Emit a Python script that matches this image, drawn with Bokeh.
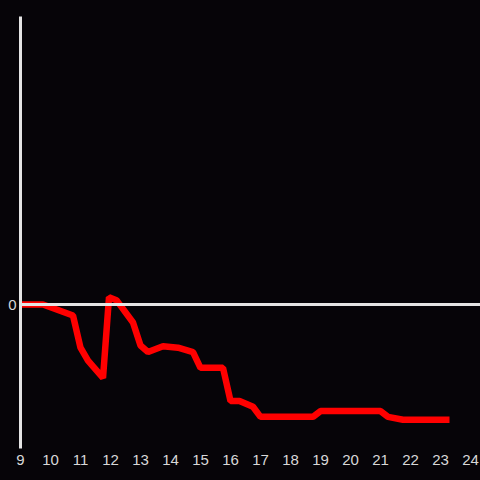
from bokeh.plotting import figure
from bokeh.models import FixedTicker, Span, Range1d
from bokeh.embed import file_html
from bokeh.resources import INLINE

hours = [9.0, 9.75, 10.75, 11.0, 11.25, 11.75, 11.95, 12.2, 12.75, 13.0, 13.25,
         13.75, 14.25, 14.75, 15.0, 15.75, 16.0, 16.3, 16.75, 17.0, 18.75,
         19.0, 21.0, 21.25, 21.75, 23.3]
values = [0.0, 0.0, -0.076, -0.30, -0.39, -0.51, 0.05, 0.03, -0.125, -0.285,
          -0.33, -0.29, -0.30, -0.33, -0.44, -0.44, -0.67, -0.67, -0.71, -0.78,
          -0.78, -0.74, -0.74, -0.78, -0.80, -0.80]
x_ticks = list(range(9, 25))
y_ticks = [0]

BG = "#060408"
AX = "#e4e4e4"

p = figure(width=480, height=480, output_backend="svg", toolbar_location=None,
           title=None,
           x_range=Range1d(9, 24.333), y_range=Range1d(-1, 2 + 16 / 144),
           background_fill_color=None, border_fill_color=None,
           min_border_left=20, min_border_right=0, min_border_top=0,
           min_border_bottom=32)
p.styles = {"background-color": BG}
p.outline_line_color = None
p.grid.visible = False

p.xaxis.ticker = FixedTicker(ticks=x_ticks)
p.xaxis.axis_line_color = None
p.xaxis.major_tick_line_color = None
p.xaxis.minor_tick_line_color = None
p.xaxis.major_tick_out = 0
p.xaxis.major_tick_in = 0
p.xaxis.major_label_standoff = 6
p.xaxis.major_label_text_color = "#d8d8d8"
p.xaxis.major_label_text_font = "Liberation Sans"
p.xaxis.major_label_text_font_size = "15px"

p.yaxis.ticker = FixedTicker(ticks=y_ticks)
p.yaxis.bounds = (-1, 2)
p.yaxis.axis_line_color = AX
p.yaxis.axis_line_width = 3
p.yaxis.major_tick_line_color = None
p.yaxis.minor_tick_line_color = None
p.yaxis.major_tick_out = 0
p.yaxis.major_tick_in = 0
p.yaxis.major_label_standoff = 4
p.yaxis.major_label_text_color = "#d8d8d8"
p.yaxis.major_label_text_font = "Liberation Sans"
p.yaxis.major_label_text_font_size = "15px"

p.add_layout(Span(location=0, dimension="width", line_color=AX, line_width=3))

p.line(hours, values, line_color="#ff0000", line_width=6.5)

open("out.html", "w").write(file_html(p, INLINE))
